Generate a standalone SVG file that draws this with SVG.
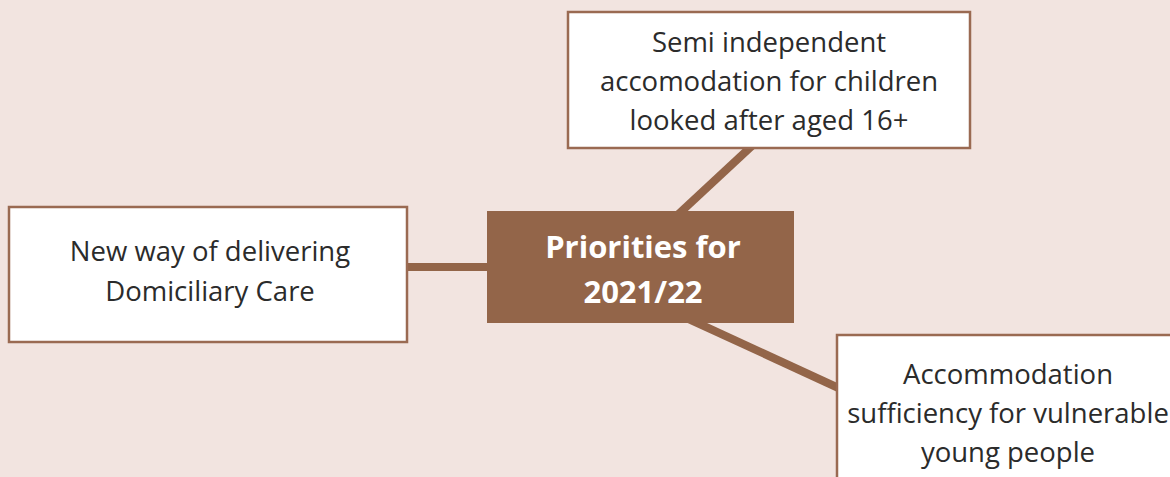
<svg xmlns="http://www.w3.org/2000/svg" width="1170" height="477" viewBox="0 0 1170 477">
<style>
.box{fill:#ffffff;stroke:#9a6a52;stroke-width:2.5}
.lbl{font-family:"Open Sans","Liberation Sans",sans-serif;font-size:27.5px;fill:#2b2b2b;text-anchor:middle}
.conn{stroke:#936549;stroke-width:8;fill:none}
.center{fill:#936549}
.ctext{font-family:"Open Sans","Liberation Sans",sans-serif;font-size:31px;font-weight:bold;fill:#ffffff;text-anchor:middle}
</style>
<rect width="1170" height="477" fill="#f2e4e0"/>
<g id="connectors">
<line class="conn" x1="400" y1="267" x2="495" y2="267"/>
<line class="conn" x1="755" y1="143" x2="670" y2="222"/>
<line class="conn" x1="680" y1="315" x2="845" y2="391"/>
</g>
<g id="center">
<rect class="center" x="487" y="211" width="307" height="112"/>
<text class="ctext" x="643" y="258">Priorities for</text>
<text class="ctext" x="643" y="303">2021/22</text>
</g>
<g id="top">
<rect class="box" x="568" y="12" width="402" height="136"/>
<text class="lbl" x="769" y="52">Semi independent</text>
<text class="lbl" x="769" y="91">accomodation for children</text>
<text class="lbl" x="769" y="130">looked after aged 16+</text>
</g>
<g id="left">
<rect class="box" x="9" y="207" width="398" height="135"/>
<text class="lbl" x="210" y="261">New way of delivering</text>
<text class="lbl" x="210" y="301">Domiciliary Care</text>
</g>
<g id="bottom">
<rect class="box" x="837" y="335" width="340" height="150"/>
<text class="lbl" x="1008" y="384">Accommodation</text>
<text class="lbl" x="1008" y="423">sufficiency for vulnerable</text>
<text class="lbl" x="1008" y="462">young people</text>
</g>
</svg>
